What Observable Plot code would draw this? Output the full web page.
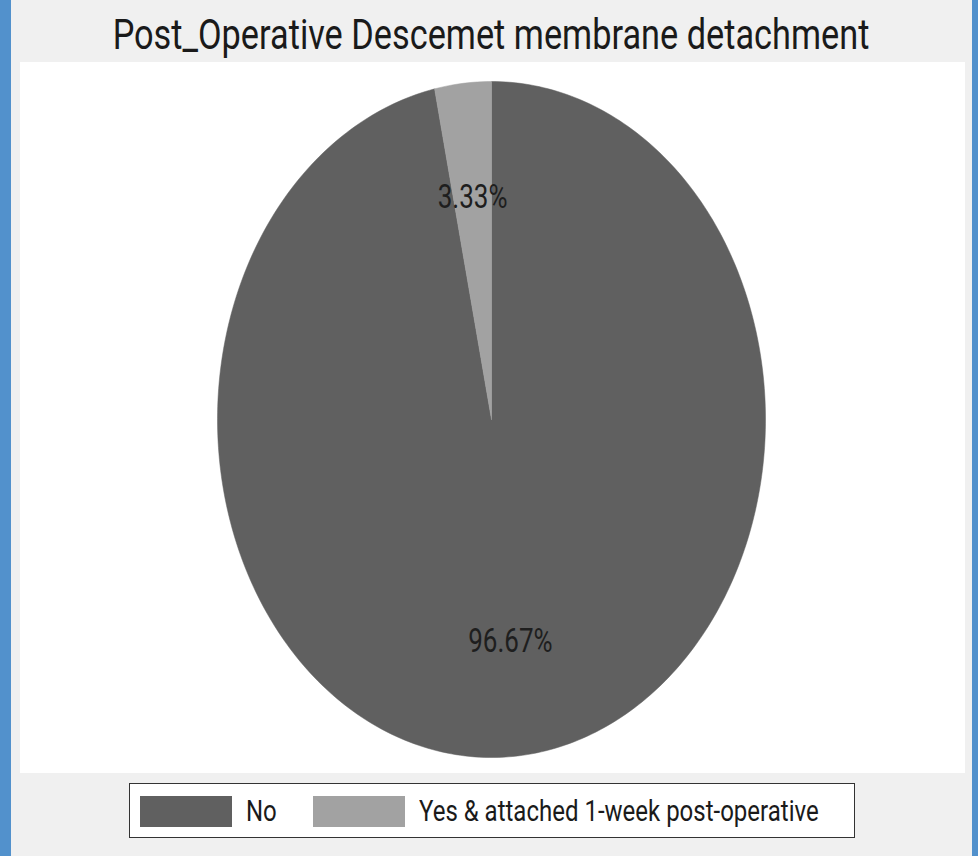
<!DOCTYPE html>
<html>
<head>
<meta charset="utf-8">
<script src="https://cdn.jsdelivr.net/npm/d3@7"></script>
<script src="https://cdn.jsdelivr.net/npm/@observablehq/plot@0.6"></script>
<style>
  html, body { margin: 0; padding: 0; }
  body { width: 978px; height: 856px; background: #f0f0f0; position: relative; overflow: hidden; font-family: Roboto, "Noto Sans", sans-serif; }
  .bar { position: absolute; top: 0; height: 856px; background: #5291cc; }
  #title { position: absolute; left: 0; width: 982px; top: 14px; text-align: center; font-size: 34.3px; color: #1a1a1a; line-height: 40px; }
  #title span { display: inline-block; transform: scaleY(1.23); transform-origin: center; }
  #panel { position: absolute; left: 20px; top: 62px; width: 945px; height: 711px; background: #fff; }
  #legend { position: absolute; left: 129px; top: 783px; width: 724px; height: 53px; background: #fff; border: 1.5px solid #333; }
  .item { position: absolute; top: 12px; height: 31px; }
  .sw { position: absolute; left: 0; top: 0; width: 92px; height: 31px; }
  .lab { position: absolute; top: 0; line-height: 31px; font-size: 24px; color: #1a1a1a; white-space: nowrap; transform: scaleY(1.25); transform-origin: center; }
</style>
</head>
<body>
<div class="bar" style="left:0;width:11px"></div>
<div class="bar" style="left:972px;width:6px"></div>
<div id="title"><span>Post_Operative Descemet membrane detachment</span></div>
<div id="panel"></div>
<div id="legend"></div>
<script>
// Data
const categories = ["No", "Yes & attached 1-week post-operative"];
const percents = [96.67, 3.33];
const sliceLabels = ["96.67%", "3.33%"];
// Styles
const sliceColors = ["#606060", "#a2a2a2"];

const pie = d3.pie().sort(null).value(d => d.value).startAngle(0).endAngle(2 * Math.PI);
const table = categories.map((c, i) => ({category: c, value: percents[i], label: sliceLabels[i]}));
const arcs = pie(table);

// wedge outlines (unit circle, y up, angles clockwise from 12 o'clock)
function wedge(a) {
  const n = Math.max(8, Math.ceil((a.endAngle - a.startAngle) / (Math.PI / 180)));
  const pts = [{x: 0, y: 0, category: a.data.category}];
  for (let k = 0; k <= n; k++) {
    const t = a.startAngle + (a.endAngle - a.startAngle) * k / n;
    pts.push({x: Math.sin(t), y: Math.cos(t), category: a.data.category});
  }
  pts.push({x: 0, y: 0, category: a.data.category});
  return pts;
}

const labelR = 0.66;
const labelData = arcs.map(a => {
  const m = (a.startAngle + a.endAngle) / 2;
  return {x: labelR * Math.sin(m), y: labelR * Math.cos(m), text: a.data.label};
});

const marks = arcs.map((a, i) => Plot.line(wedge(a), {x: "x", y: "y", fill: sliceColors[i], stroke: sliceColors[i], strokeWidth: 0.5, curve: "linear"}));
marks.push(Plot.text(labelData, {x: "x", y: "y", text: "text", fontSize: 26, fill: "#1e1e1e", fontFamily: "Roboto"}));

const chart = Plot.plot({
  width: 945,
  height: 711,
  marginLeft: 197,
  marginRight: 200,
  marginTop: 19,
  marginBottom: 16,
  x: {domain: [-1, 1], axis: null},
  y: {domain: [-1, 1], axis: null},
  style: {background: "#fff", overflow: "visible"},
  marks
});
// stretch label glyphs vertically like the reference
d3.select(chart).selectAll("text").each(function() {
  const el = d3.select(this);
  const tr = el.attr("transform");
  if (tr) {
    el.attr("transform", tr + " scale(1,1.28)");
  } else {
    const x = +el.attr("x") || 0, y = +el.attr("y") || 0;
    el.attr("x", null).attr("y", null).attr("transform", `translate(${x},${y}) scale(1,1.28)`);
  }
});
document.getElementById("panel").appendChild(chart);

// Legend
const legend = document.getElementById("legend");
const itemX = [10, 183];
categories.forEach((c, i) => {
  const it = document.createElement("div");
  it.className = "item";
  it.style.left = itemX[i] + "px";
  const sw = document.createElement("div");
  sw.className = "sw";
  sw.style.background = sliceColors[i];
  const lab = document.createElement("div");
  lab.className = "lab";
  lab.style.left = "106px";
  lab.textContent = c;
  it.appendChild(sw);
  it.appendChild(lab);
  legend.appendChild(it);
});
</script>
</body>
</html>
